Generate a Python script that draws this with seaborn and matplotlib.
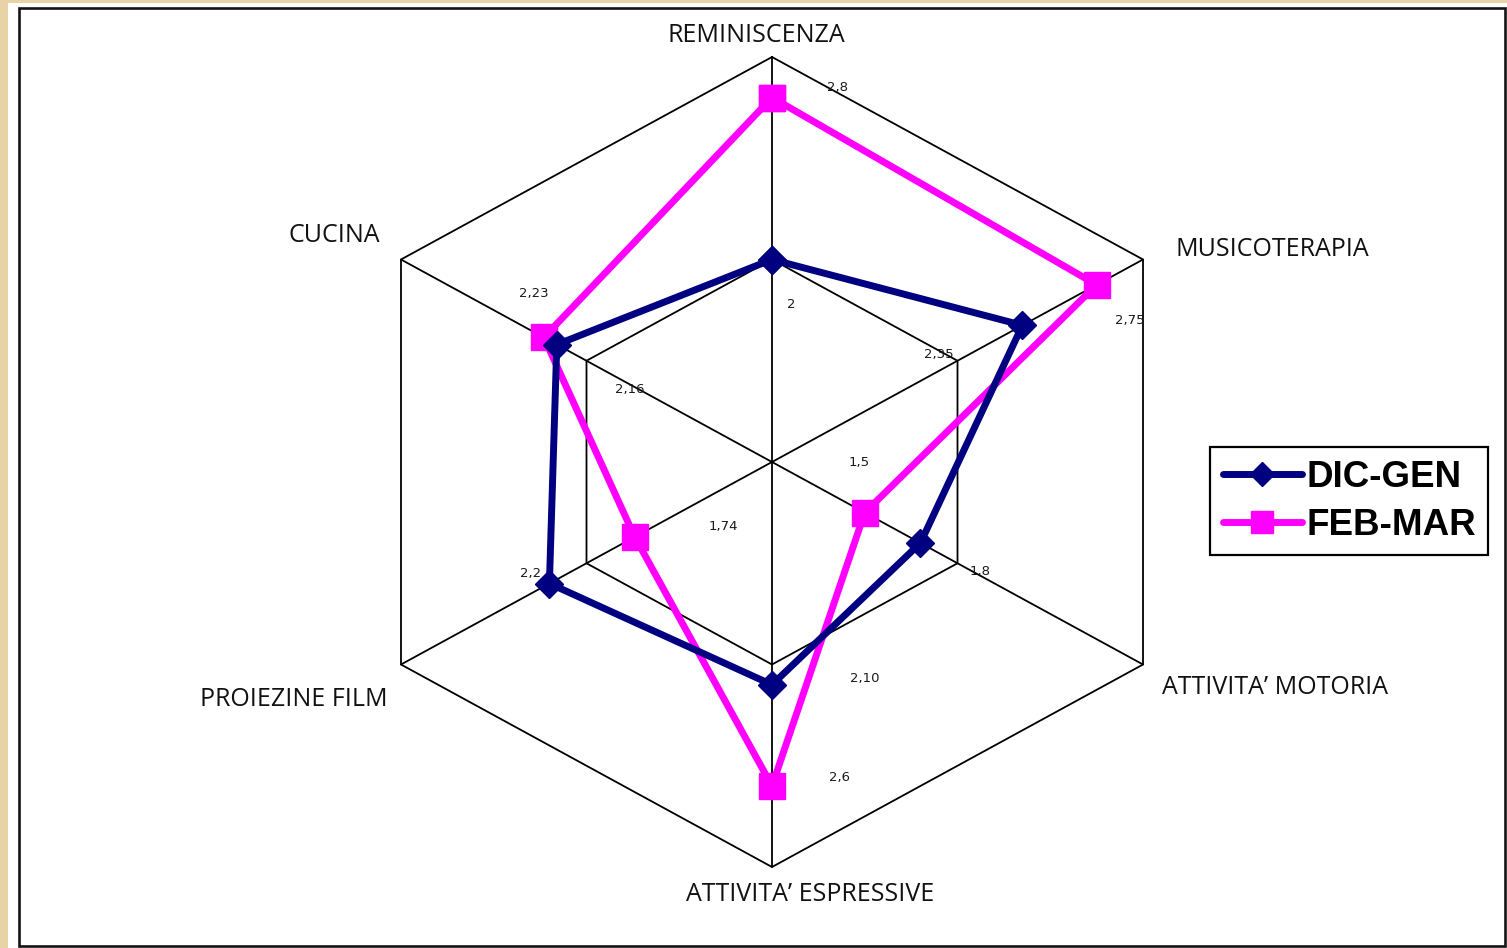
import numpy as np
import pandas as pd
import matplotlib
matplotlib.use("Agg")
import matplotlib.pyplot as plt
from matplotlib.patches import Rectangle
from matplotlib.lines import Line2D
import seaborn as sns

# ---- data -------------------------------------------------------------
categories = ["REMINISCENZA", "MUSICOTERAPIA", "ATTIVITA\u2019 MOTORIA",
              "ATTIVITA\u2019 ESPRESSIVE", "PROIEZINE FILM", "CUCINA"]
series_names = ["DIC-GEN", "FEB-MAR"]
dic_gen_text = ["2", "2,35", "1,8", "2,10", "2,2", "2,16"]
feb_mar_text = ["2,8", "2,75", "1,5", "2,6", "1,74", "2,23"]
dic_gen = [float(s.replace(",", ".")) for s in dic_gen_text]
feb_mar = [float(s.replace(",", ".")) for s in feb_mar_text]
scale_min, scale_max = 1.0, 3.0
grid_levels = [2.0, 3.0]

# ---- styling / layout -------------------------------------------------
W, H = 1507, 948
colors = {"DIC-GEN": "#000080", "FEB-MAR": "#FF00FF"}
markers = {"DIC-GEN": "D", "FEB-MAR": "s"}
marker_sizes = {"DIC-GEN": 14, "FEB-MAR": 19}
legend_marker_sizes = {"DIC-GEN": 12, "FEB-MAR": 16}
draw_order = {"FEB-MAR": 4, "DIC-GEN": 5}
center_px = (772, 486)          # from the bottom-left corner
unit_px = (428.4, 405.0)        # horizontal / vertical radius of the outer ring

# offsets (pixels) of category names from the outer vertices
cat_offsets = [(-16, 15), (32, 3), (19, -29), (38, -34), (-13, -41), (-21, 18)]
cat_ha = ["center", "left", "left", "center", "right", "right"]
# offsets (pixels) of the value labels from their markers
value_offsets = {
    "DIC-GEN": [(19, -45), (-84, -29), (60, -29), (93, 6), (-19, 10), (73, -45)],
    "FEB-MAR": [(66, 10), (33, -36), (-6, 50), (68, 9), (89, 10), (-10, 44)],
}

sns.set_theme(style="white")
plt.rcParams["font.family"] = ["DejaVu Sans"]
plt.rcParams["text.color"] = "black"

fig = plt.figure(figsize=(W / 100, H / 100), dpi=100)
fig.patch.set_facecolor("#E7D3A5")

# white chart area and its dark frame
fig.add_artist(Rectangle((8 / W, 0), (W - 8) / W, (H - 3) / H,
                         transform=fig.transFigure, facecolor="white",
                         edgecolor="none", zorder=0))
fig.add_artist(Rectangle((19 / W, 2 / H), (1505 - 19) / W, (940 - 2) / H,
                         transform=fig.transFigure, facecolor="none",
                         edgecolor="#141414", linewidth=1.9, zorder=1))

ax = fig.add_axes([0, 0, 1, 1])
ax.set_facecolor("none")
ax.set_xlim(-center_px[0] / unit_px[0], (W - center_px[0]) / unit_px[0])
ax.set_ylim(-center_px[1] / unit_px[1], (H - center_px[1]) / unit_px[1])
ax.axis("off")

n = len(categories)
angles = np.deg2rad(np.arange(n) * 360.0 / n)   # clockwise from the top


def to_xy(values):
    r = (np.asarray(values) - scale_min) / (scale_max - scale_min)
    return r * np.sin(angles), r * np.cos(angles)


# hexagonal grid and spokes
for level in grid_levels:
    gx, gy = to_xy([level] * n)
    ax.plot(np.append(gx, gx[0]), np.append(gy, gy[0]), color="black",
            lw=1.3, zorder=2)
ox, oy = to_xy([scale_max] * n)
for x1, y1 in zip(ox, oy):
    ax.plot([0, x1], [0, y1], color="black", lw=1.3, zorder=2)

# series polygons
rows = []
for name, vals in zip(series_names, [dic_gen, feb_mar]):
    xs, ys = to_xy(vals)
    for i in list(range(n)) + [0]:
        rows.append({"series": name, "x": xs[i], "y": ys[i]})
df = pd.DataFrame(rows)

for name in series_names:
    sub = df[df["series"] == name]
    sns.lineplot(data=sub, x="x", y="y", sort=False, estimator=None,
                 color=colors[name], marker=markers[name],
                 markersize=marker_sizes[name], markeredgecolor=colors[name],
                 markeredgewidth=1, linewidth=5, ax=ax, legend=False,
                 zorder=draw_order[name])

# value labels
for name, vals, texts in zip(series_names, [dic_gen, feb_mar],
                             [dic_gen_text, feb_mar_text]):
    xs, ys = to_xy(vals)
    for i in range(n):
        ax.annotate(texts[i], (xs[i], ys[i]), xytext=value_offsets[name][i],
                    textcoords="offset pixels", ha="center", va="center",
                    fontsize=9.5, color="#1a1a1a", zorder=6)

# category names
for i, cat in enumerate(categories):
    ax.annotate(cat, (ox[i], oy[i]), xytext=cat_offsets[i],
                textcoords="offset pixels", ha=cat_ha[i], va="baseline",
                fontsize=18, family="Open Sans", color="#111111", zorder=6)

# legend
handles = [Line2D([], [], color=colors[s], lw=5, marker=markers[s],
                  markersize=legend_marker_sizes[s],
                  markeredgecolor=colors[s]) for s in series_names]
leg = ax.legend(handles, series_names, loc="upper left",
                bbox_to_anchor=(1210 / W, 1 - 447 / H),
                bbox_transform=fig.transFigure, borderaxespad=0,
                frameon=True, fancybox=False, shadow=False,
                prop={"family": "Liberation Sans", "weight": "bold", "size": 26.5},
                handlelength=2.15, handletextpad=0.12, borderpad=0.34,
                labelspacing=0.36)
for t in leg.get_texts():
    t.set_color("black")
leg.get_frame().set_edgecolor("black")
leg.get_frame().set_linewidth(1.6)
leg.get_frame().set_facecolor("white")
leg.get_frame().set_alpha(1)

fig.savefig("out.png", dpi=100, facecolor=fig.get_facecolor())
